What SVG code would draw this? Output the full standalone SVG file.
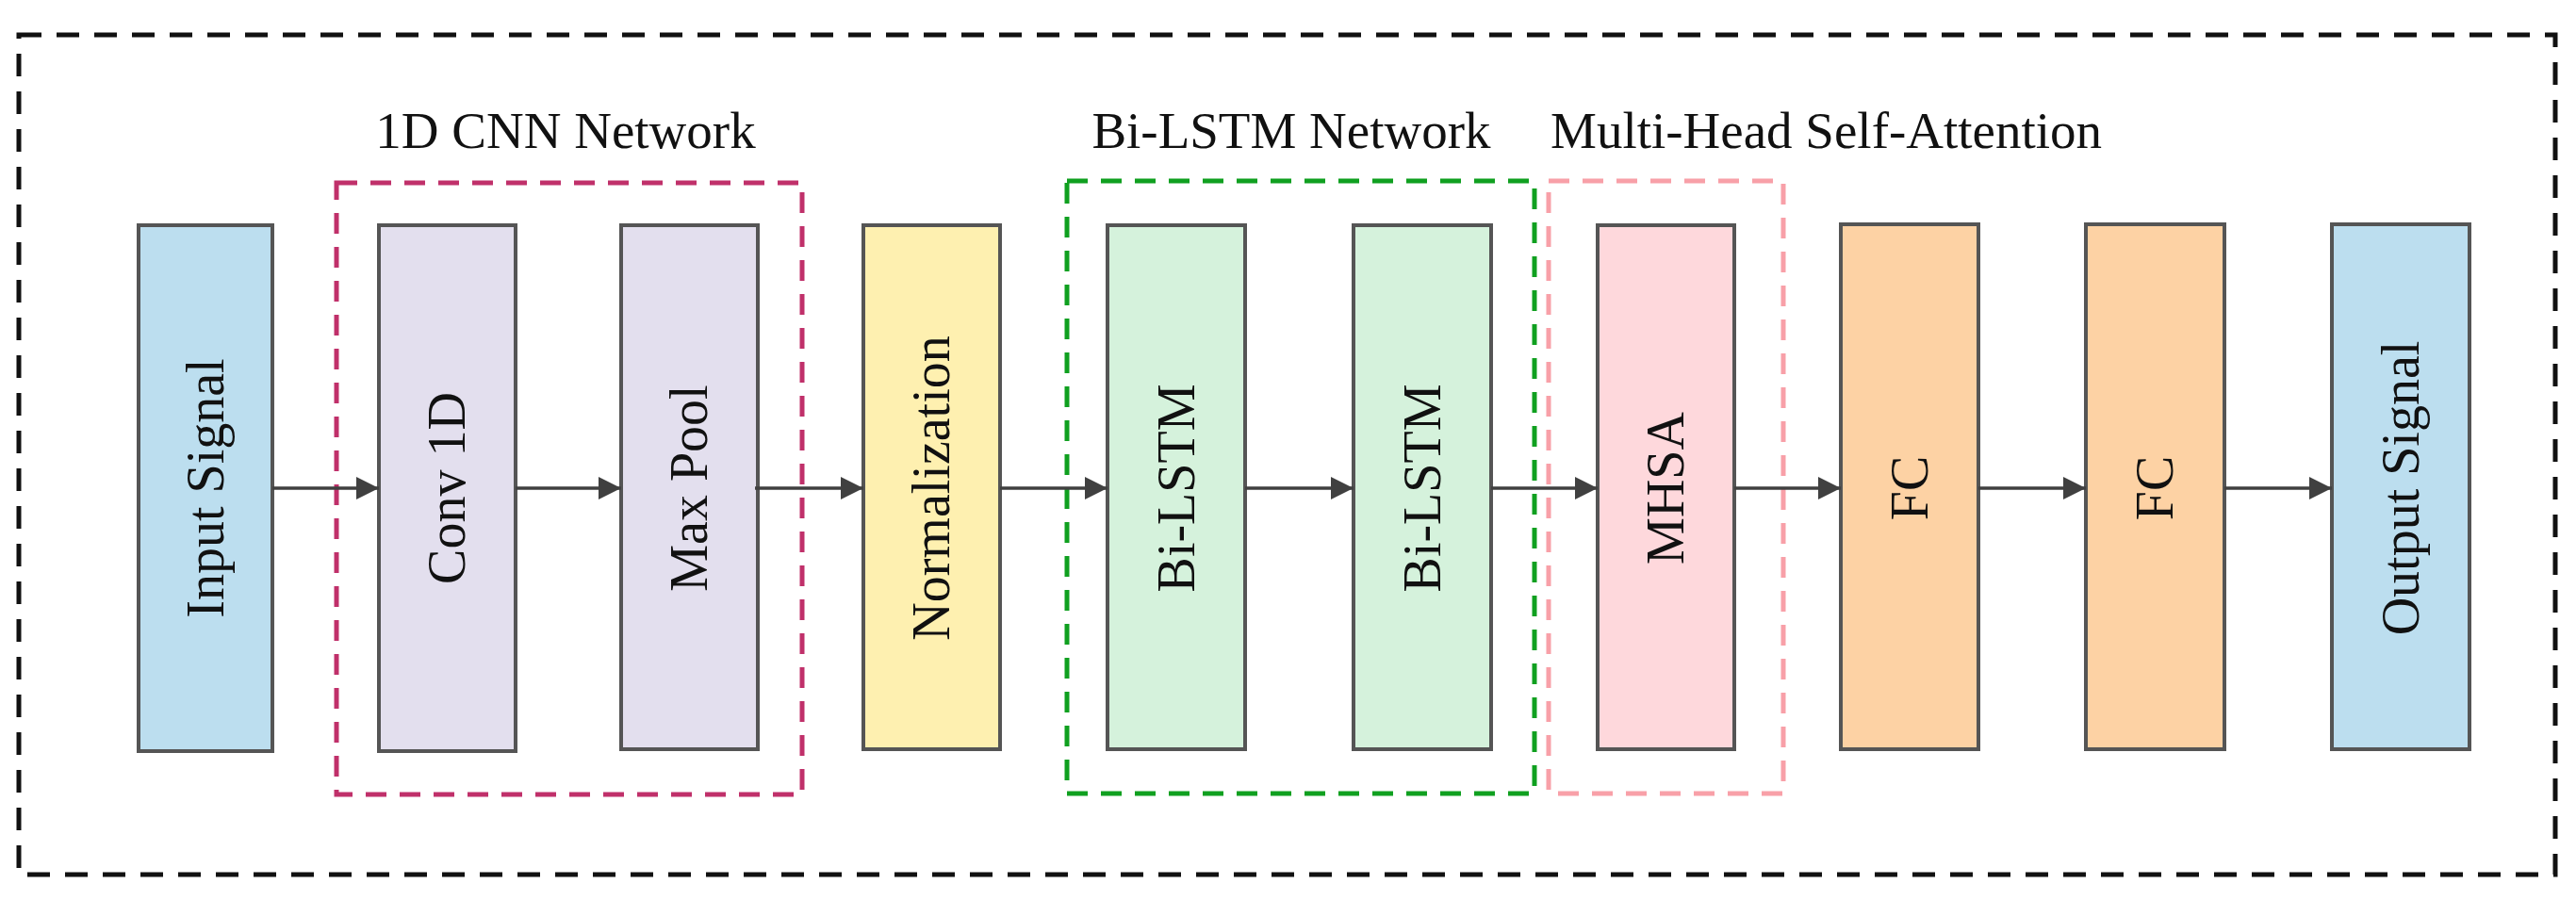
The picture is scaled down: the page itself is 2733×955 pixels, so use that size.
<svg xmlns="http://www.w3.org/2000/svg" width="2733" height="955" viewBox="0 0 2733 955">
<style>
.n{stroke:#555;stroke-width:4}
.t{font-family:"Liberation Serif",serif;font-size:56px;fill:#111;text-anchor:middle;dominant-baseline:central}
.h{font-family:"Liberation Serif",serif;font-size:55px;fill:#111}
.c line{stroke:#404040;stroke-width:3.5;marker-end:url(#a)}
.g{fill:none;stroke-width:5;stroke-dasharray:22 14}
</style>
<defs><marker id="a" viewBox="0 0 10 10" refX="10" refY="5" markerWidth="7" markerHeight="7" orient="auto" markerUnits="strokeWidth"><path d="M0,0L10,5L0,10z" fill="#404040"/></marker></defs>
<rect x="20" y="37" width="2691" height="891" fill="none" stroke="#111" stroke-width="5" stroke-dasharray="24 16"/>
<g id="grp-cnn"><rect class="g" x="357" y="194" width="494" height="649" stroke="#c0306a"/><text class="h" x="600" y="157" text-anchor="middle">1D CNN Network</text></g>
<g id="grp-lstm"><rect class="g" x="1132" y="192" width="496" height="650" stroke="#10a020"/><text class="h" x="1370" y="157" text-anchor="middle">Bi-LSTM Network</text></g>
<g id="grp-mhsa"><rect class="g" x="1643" y="192" width="249" height="650" stroke="#f8a0a8"/><text class="h" x="1645" y="157">Multi-Head  Self-Attention</text></g>
<g id="input"><rect class="n" x="147" y="239" width="142" height="558" fill="#bcdeef"/><text class="t" transform="translate(218,518) rotate(-90)">Input  Signal</text></g>
<g id="conv"><rect class="n" x="402" y="239" width="145" height="558" fill="#e3dfee"/><text class="t" transform="translate(474,518) rotate(-90)">Conv  1D</text></g>
<g id="pool"><rect class="n" x="659" y="239" width="145" height="556" fill="#e3dfee"/><text class="t" transform="translate(731,518) rotate(-90)">Max Pool</text></g>
<g id="norm"><rect class="n" x="916" y="239" width="145" height="556" fill="#fef0b0"/><text class="t" transform="translate(988,518) rotate(-90)">Normalization</text></g>
<g id="lstm1"><rect class="n" x="1175" y="239" width="146" height="556" fill="#d5f2dc"/><text class="t" transform="translate(1248,518) rotate(-90)">Bi-LSTM</text></g>
<g id="lstm2"><rect class="n" x="1436" y="239" width="146" height="556" fill="#d5f2dc"/><text class="t" transform="translate(1509,518) rotate(-90)">Bi-LSTM</text></g>
<g id="mhsa"><rect class="n" x="1695" y="239" width="145" height="556" fill="#fed8dc"/><text class="t" transform="translate(1767,518) rotate(-90)">MHSA</text></g>
<g id="fc1"><rect class="n" x="1953" y="238" width="146" height="557" fill="#fdd2a4"/><text class="t" transform="translate(2026,518) rotate(-90)">FC</text></g>
<g id="fc2"><rect class="n" x="2213" y="238" width="147" height="557" fill="#fdd2a4"/><text class="t" transform="translate(2286,518) rotate(-90)">FC</text></g>
<g id="output"><rect class="n" x="2474" y="238" width="146" height="557" fill="#bcdeef"/><text class="t" transform="translate(2547,518) rotate(-90)">Output  Signal</text></g>
<g class="c">
<line x1="289" y1="518" x2="402" y2="518"/>
<line x1="547" y1="518" x2="659" y2="518"/>
<line x1="801" y1="518" x2="916" y2="518"/>
<line x1="1061" y1="518" x2="1175" y2="518"/>
<line x1="1321" y1="518" x2="1436" y2="518"/>
<line x1="1582" y1="518" x2="1695" y2="518"/>
<line x1="1840" y1="518" x2="1953" y2="518"/>
<line x1="2099" y1="518" x2="2213" y2="518"/>
<line x1="2360" y1="518" x2="2474" y2="518"/>
</g>
</svg>
